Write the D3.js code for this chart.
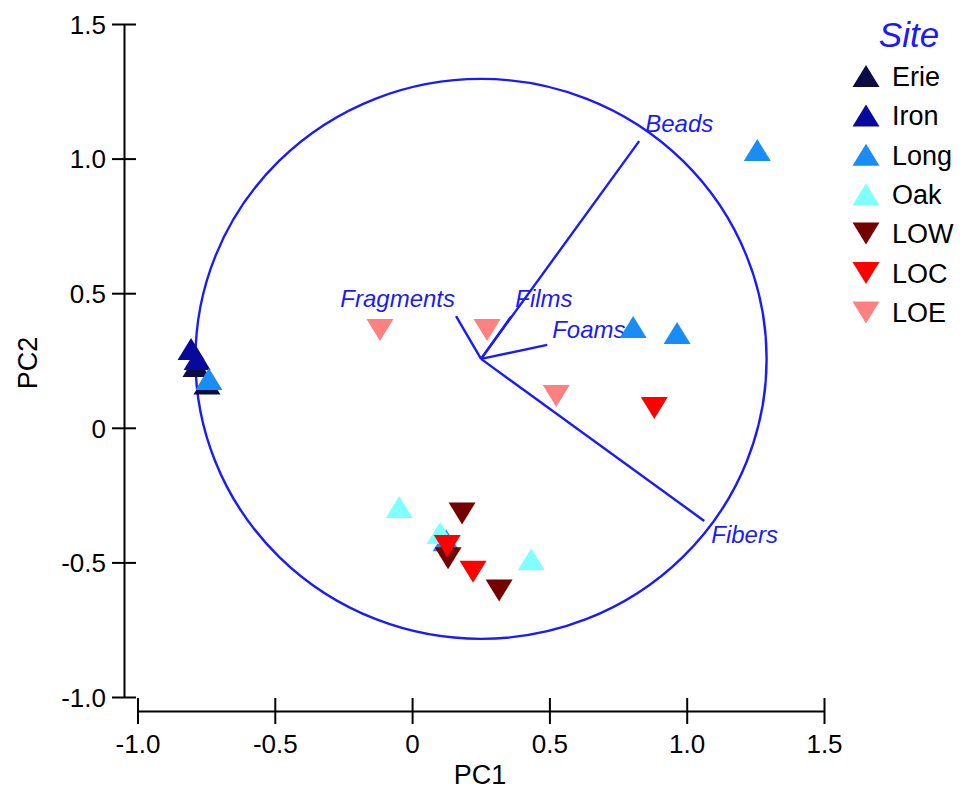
<!DOCTYPE html>
<html>
<head>
<meta charset="utf-8">
<script src="https://cdn.jsdelivr.net/npm/d3@7"></script>
<style>
  body { margin: 0; background: #fff; }
  svg text { font-family: "Liberation Sans", Arial, sans-serif; }
</style>
</head>
<body>
<div id="chart"></div>
<script>
// site groups, in legend order
var sites = ['Erie', 'Iron', 'Long', 'Oak', 'LOW', 'LOC', 'LOE'];
var siteColors = ['#0b0b46', '#08089c', '#1a8cf5', '#80ffff', '#740000', '#ff0000', '#ff8080'];
var siteShapes = ['up', 'up', 'up', 'up', 'down', 'down', 'down'];

// sample scores [PC1, PC2] per site
var erieScores = [[-0.787, 0.230], [-0.747, 0.165]];
var ironScores = [[-0.805, 0.293], [-0.783, 0.256]];
var longScores = [[1.257, 1.032], [0.805, 0.374], [0.965, 0.352], [-0.740, 0.181], [0.124, -0.418]];
var oakScores  = [[-0.047, -0.294], [0.102, -0.391], [0.434, -0.488]];
var lowScores  = [[0.182, -0.318], [0.131, -0.485], [0.317, -0.604]];
var locScores  = [[0.128, -0.439], [0.222, -0.535], [0.882, 0.074]];
var loeScores  = [[-0.117, 0.363], [0.273, 0.363], [0.525, 0.118]];

// loading vectors
var loadingNames = ['Beads', 'Fragments', 'Films', 'Foams', 'Fibers'];
var loadingEnds = [[0.827, 1.065], [0.160, 0.415], [0.361, 0.414], [0.492, 0.308], [1.064, -0.346]];
var loadingOrigin = [0.251, 0.256];
var circleRadius = 1.04;

var xTicks = [-1.0, -0.5, 0, 0.5, 1.0, 1.5];
var yTicks = [-1.0, -0.5, 0, 0.5, 1.0, 1.5];

var width = 965, height = 797;
var blue = '#1a1aff';

var svg = d3.select('#chart').append('svg')
    .attr('width', width)
    .attr('height', height);

var x = d3.scaleLinear().domain([-1, 1.5]).range([137.5, 824]);
var y = d3.scaleLinear().domain([-1, 1.5]).range([697, 24]);

var fmt = function (d) { return d === 0 ? '0' : d.toFixed(1); };

// y axis, ticks cross the line
var yAxis = svg.append('g')
    .attr('transform', 'translate(124,0)')
    .call(d3.axisLeft(y).tickValues(yTicks).tickSize(12).tickSizeOuter(0).tickFormat(fmt));
yAxis.selectAll('.tick line').attr('x1', 12);
yAxis.selectAll('.tick text')
    .attr('x', -18)
    .attr('dy', '0.36em')
    .style('font-size', '26px')
    .attr('fill', '#000');
yAxis.select('.domain').attr('stroke-width', 2);
yAxis.selectAll('.tick line').attr('stroke-width', 2);

// x axis
var xAxis = svg.append('g')
    .attr('transform', 'translate(0,711)')
    .call(d3.axisBottom(x).tickValues(xTicks).tickSize(13).tickSizeOuter(0).tickFormat(fmt));
xAxis.selectAll('.tick line').attr('y1', -13);
xAxis.selectAll('.tick text')
    .attr('y', 24)
    .attr('dy', '0.71em')
    .style('font-size', '26px')
    .attr('fill', '#000');
xAxis.select('.domain').attr('stroke-width', 2);
xAxis.selectAll('.tick line').attr('stroke-width', 2);

// axis titles
svg.append('text')
    .attr('x', 480).attr('y', 784)
    .attr('text-anchor', 'middle')
    .style('font-size', '27px')
    .text('PC1');
svg.append('text')
    .attr('transform', 'translate(37,363) rotate(-90)')
    .attr('text-anchor', 'middle')
    .style('font-size', '27px')
    .text('PC2');

// correlation circle
svg.append('ellipse')
    .attr('cx', x(loadingOrigin[0]))
    .attr('cy', y(loadingOrigin[1]))
    .attr('rx', x(circleRadius) - x(0))
    .attr('ry', y(0) - y(circleRadius))
    .attr('fill', 'none')
    .attr('stroke', blue)
    .attr('stroke-width', 2.4);

// loading vectors
var labelAnchor = ['start', 'end', 'start', 'start', 'start'];
var labelOffset = [[6, -9], [-1, -9], [4, -9], [5, -7], [7, 22]];

svg.append('g').selectAll('line')
    .data(loadingEnds)
    .join('line')
        .attr('x1', x(loadingOrigin[0]))
        .attr('y1', y(loadingOrigin[1]))
        .attr('x2', function (d) { return x(d[0]); })
        .attr('y2', function (d) { return y(d[1]); })
        .attr('stroke', blue)
        .attr('stroke-width', 2.4);

svg.append('g').selectAll('text')
    .data(loadingEnds)
    .join('text')
        .attr('x', function (d, i) { return x(d[0]) + labelOffset[i][0]; })
        .attr('y', function (d, i) { return y(d[1]) + labelOffset[i][1]; })
        .attr('text-anchor', function (d, i) { return labelAnchor[i]; })
        .attr('fill', blue)
        .style('font-size', '24px')
        .style('font-style', 'italic')
        .text(function (d, i) { return loadingNames[i]; });

// triangle markers
var triW = 27, triH = 22;
function tri(dir) {
    var h = triH / 2, w = triW / 2;
    if (dir === 'up') return 'M0,' + (-h) + 'L' + w + ',' + h + 'L' + (-w) + ',' + h + 'Z';
    return 'M0,' + h + 'L' + w + ',' + (-h) + 'L' + (-w) + ',' + (-h) + 'Z';
}

var allScores = [erieScores, ironScores, longScores, oakScores, lowScores, locScores, loeScores];

allScores.forEach(function (pts, s) {
    svg.append('g').selectAll('path')
        .data(pts)
        .join('path')
            .attr('d', tri(siteShapes[s]))
            .attr('transform', function (d) { return 'translate(' + x(d[0]) + ',' + y(d[1]) + ')'; })
            .attr('fill', siteColors[s]);
});

// legend
var legend = svg.append('g');
legend.append('text')
    .attr('x', 909).attr('y', 47)
    .attr('text-anchor', 'middle')
    .attr('fill', blue)
    .style('font-size', '35px')
    .style('font-style', 'italic')
    .text('Site');

var rows = legend.selectAll('g.row')
    .data(sites)
    .join('g')
        .attr('class', 'row')
        .attr('transform', function (d, i) { return 'translate(866,' + (76 + i * 39.4) + ')'; });
rows.append('path')
    .attr('d', function (d, i) { return tri(siteShapes[i]); })
    .attr('fill', function (d, i) { return siteColors[i]; });
rows.append('text')
    .attr('x', 26)
    .attr('dy', '0.36em')
    .style('font-size', '27px')
    .text(function (d) { return d; });
</script>
</body>
</html>
